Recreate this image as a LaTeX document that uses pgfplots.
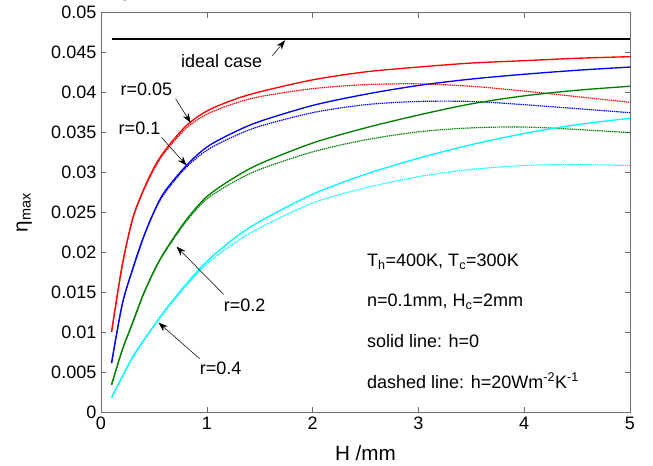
\documentclass[border=0pt]{standalone}
\usepackage{pgfplots}
\pgfplotsset{compat=1.18}
\usepackage{pgfplotstable}
\usepackage{fontspec}
\setmainfont{Liberation Sans}
\usetikzlibrary{arrows.meta}

\definecolor{cred}{RGB}{255,0,0}
\definecolor{cblue}{RGB}{0,0,255}
\definecolor{cgreen}{RGB}{0,128,0}
\definecolor{ccyan}{RGB}{0,255,255}
\definecolor{axgray}{RGB}{110,110,110}

% H, solid (h=0), dashed (h=20)
\pgfplotstableread{
H     s       d
0.1   0.0101  0.0101
0.2   0.0184  0.0183
0.3   0.0243  0.0242
0.4   0.0278  0.0277
0.5   0.0306  0.0304
0.6   0.0327  0.0325
0.8   0.0358  0.0355
1.0   0.0377  0.0373
1.25  0.0391  0.0386
1.5   0.0401  0.0395
2.0   0.0416  0.0405
2.5   0.0426  0.0410
3.0   0.0432  0.0411
3.5   0.0437  0.0408
4.0   0.0440  0.0402
4.5   0.0443  0.0395
5.0   0.0445  0.0388
}\rzero

\pgfplotstableread{
H     s       d
0.1   0.0062  0.0062
0.2   0.0135  0.0135
0.3   0.0180  0.0179
0.4   0.0219  0.0218
0.5   0.0251  0.0250
0.6   0.0276  0.0274
0.8   0.0308  0.0306
1.0   0.0332  0.0328
1.25  0.0350  0.0345
1.5   0.0364  0.0358
2.0   0.0384  0.0375
2.5   0.0398  0.0385
3.0   0.0409  0.0389
3.5   0.0417  0.0389
4.0   0.0423  0.0385
4.5   0.0428  0.0380
5.0   0.0432  0.0375
}\rone

\pgfplotstableread{
H     s       d
0.1   0.0035  0.0035
0.2   0.0078  0.0078
0.3   0.0113  0.0112
0.4   0.0148  0.0147
0.5   0.0177  0.0176
0.6   0.0201  0.0200
0.8   0.0240  0.0238
1.0   0.0270  0.0267
1.25  0.0293  0.0288
1.5   0.0311  0.0304
2.0   0.0337  0.0326
2.5   0.0356  0.0341
3.0   0.0372  0.0351
3.5   0.0386  0.0356
4.0   0.0396  0.0357
4.5   0.0403  0.0354
5.0   0.0408  0.0350
}\rtwo

\pgfplotstableread{
H     s       d
0.1   0.0019  0.0019
0.2   0.0045  0.0045
0.3   0.0070  0.0069
0.4   0.0090  0.0089
0.5   0.0109  0.0108
0.6   0.0127  0.0126
0.8   0.0160  0.0158
1.0   0.0189  0.0186
1.25  0.0217  0.0211
1.5   0.0239  0.0231
2.0   0.0273  0.0262
2.5   0.0298  0.0281
3.0   0.0318  0.0295
3.5   0.0335  0.0304
4.0   0.0349  0.0309
4.5   0.0360  0.0310
5.0   0.0368  0.0309
}\rfour

\begin{document}
\begin{tikzpicture}
\begin{axis}[
    at={(0,0)}, anchor=south west,
    scale only axis,
    width=396.75pt, height=300pt,
    xmin=0, xmax=5, ymin=0, ymax=0.05,
    xtick={0,1,2,3,4,5},
    ytick={0,0.005,0.01,0.015,0.02,0.025,0.03,0.035,0.04,0.045,0.05},
    yticklabels={0,0.005,0.01,0.015,0.02,0.025,0.03,0.035,0.04,0.045,0.05},
    xticklabels={0,1,2,3,4,5},
    tick align=inside,
    tick pos=both,
    xticklabel pos=bottom,
    yticklabel pos=left,
    major tick length=4pt,
    axis line style={axgray},
    every tick/.style={axgray},
    tick label style={font=\fontsize{13.5}{16}\selectfont, black},
    xlabel={H /mm},
    ylabel={η\textsubscript{max}},
    label style={font=\fontsize{15.5}{18}\selectfont},
    xlabel style={at={(axis description cs:0.5,-0.1)}, anchor=center},
    ylabel style={at={(axis description cs:-0.145,0.5)}, anchor=center},
    every axis plot/.append style={line width=1pt, smooth},
]
\addplot[black, line width=1pt, sharp plot] coordinates {(0.1,0.0467) (5,0.0467)};

\addplot[cred] table[x=H, y=s] {\rzero};
\addplot[cred, line width=0.9pt, dash pattern=on 1pt off 0.6pt] table[x=H, y=d] {\rzero};
\addplot[cblue] table[x=H, y=s] {\rone};
\addplot[cblue, line width=0.9pt, dash pattern=on 1pt off 0.6pt] table[x=H, y=d] {\rone};
\addplot[cgreen] table[x=H, y=s] {\rtwo};
\addplot[cgreen, line width=0.9pt, dash pattern=on 1pt off 0.6pt] table[x=H, y=d] {\rtwo};
\addplot[ccyan] table[x=H, y=s] {\rfour};
\addplot[ccyan, line width=0.9pt, dash pattern=on 1pt off 0.6pt] table[x=H, y=d] {\rfour};

\begin{scope}[font=\fontsize{13.5}{16}\selectfont]
\node at (axis cs:1.14,0.0439) {ideal case};
\draw[-{Stealth[length=7pt,width=5pt]}, thin] (axis cs:1.62,0.04463) -- (axis cs:1.74,0.04654);
\node at (axis cs:0.43,0.0404) {r=0.05};
\draw[-{Stealth[length=7pt,width=5pt]}, thin] (axis cs:0.705,0.03925) -- (axis cs:0.847,0.03625);
\node at (axis cs:0.364,0.0355) {r=0.1};
\draw[-{Stealth[length=7pt,width=5pt]}, thin] (axis cs:0.572,0.0344) -- (axis cs:0.809,0.0309);
\node at (axis cs:1.357,0.01338) {r=0.2};
\draw[-{Stealth[length=7pt,width=5pt]}, thin] (axis cs:1.159,0.01479) -- (axis cs:0.714,0.02075);
\node at (axis cs:1.13,0.0055) {r=0.4};
\draw[-{Stealth[length=7pt,width=5pt]}, thin] (axis cs:0.932,0.00675) -- (axis cs:0.544,0.01125);
\node[anchor=west] at (axis cs:2.47,0.0189) {T\textsubscript{h}=400K, T\textsubscript{c}=300K};
\node[anchor=west] at (axis cs:2.47,0.0139) {n=0.1mm, H\textsubscript{c}=2mm};
\node[anchor=west] at (axis cs:2.47,0.0089) {solid line: h=0};
\node[anchor=west] at (axis cs:2.47,0.0040) {dashed line: h=20Wm\textsuperscript{-2}K\textsuperscript{-1}};
\end{scope}
\end{axis}
\pgfresetboundingbox
\path (-75.75pt,-40pt) rectangle (414pt,309.5pt);
\end{tikzpicture}
\end{document}
